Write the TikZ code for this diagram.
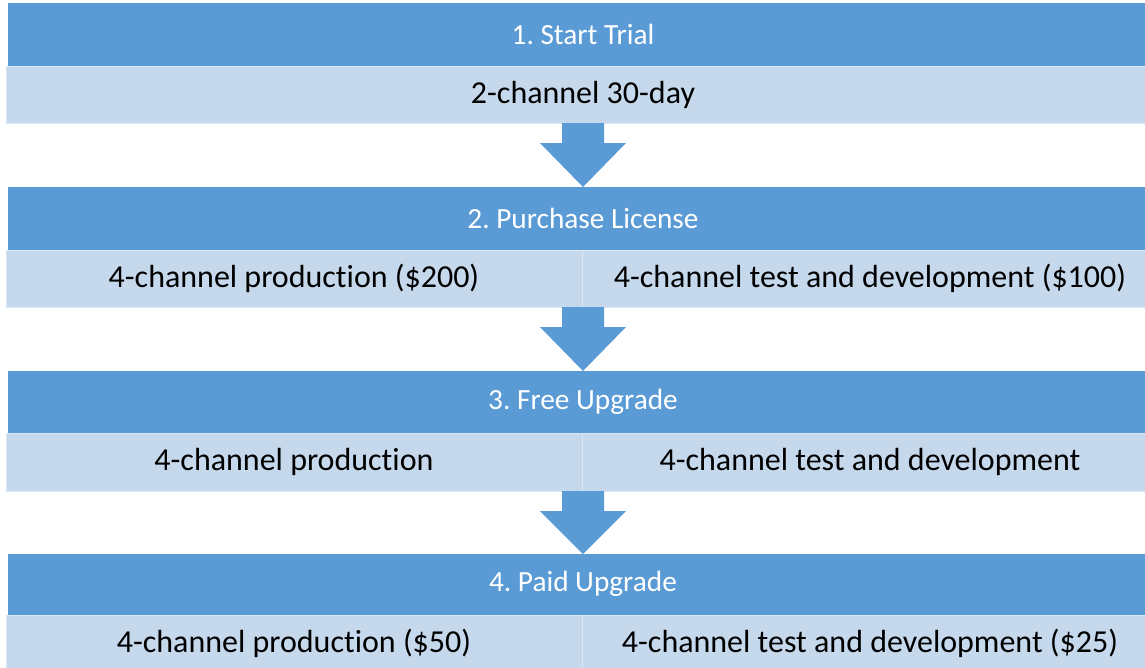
\documentclass[tikz,border=0pt]{standalone}
\usepackage{fontspec}
\setmainfont{Carlito}[Ligatures=NoCommon]
\definecolor{hdr}{HTML}{5B9BD5}
\definecolor{lite}{HTML}{C5D8EC}
\definecolor{liteedge}{HTML}{DCE7F4}
\tikzset{
  hdrbox/.style={fill=hdr, draw=none},
  litebox/.style={fill=lite, draw=liteedge, line width=1pt},
  hdrtext/.style={text=white, font=\fontsize{29.3}{35}\selectfont\frenchspacing, inner sep=0pt},
  litetext/.style={text=black, font=\fontsize{32}{38}\selectfont\frenchspacing, inner sep=0pt},
  flowarrow/.style={fill=hdr, draw=none}
}
\begin{document}
\begin{tikzpicture}[x=1pt,y=-1pt]
\useasboundingbox (0,0) rectangle (1145,667);
\clip (0,0) rectangle (1145,667);
\fill[white] (0,0) rectangle (1145,667);
% stage 1
\path[hdrbox] (8,3) rectangle (1160,66);
\path[litebox] (6,66) rectangle (1160,123);
\node[hdrtext] (h1) at (583,34) {1. Start Trial};
\node[litetext] (l1) at (583,95) {2-channel 30-day};
% arrow 1
\path[flowarrow] (562,123) -- (604,123) -- (604,143) -- (626,143) -- (583,187) -- (540,143) -- (562,143) -- cycle;
% stage 2
\path[hdrbox] (8,187) rectangle (1160,250);
\path[litebox] (6,250) rectangle (1160,307);
\draw[liteedge, line width=1pt] (582,250) -- (582,307);
\node[hdrtext] (h2) at (583,218) {2. Purchase License};
\node[litetext] (l2a) at (294,278.5) {4-channel production (\$200)};
\node[litetext] (l2b) at (870,278.5) {4-channel test and development (\$100)};
% arrow 2
\path[flowarrow] (562,307) -- (604,307) -- (604,327) -- (626,327) -- (583,371) -- (540,327) -- (562,327) -- cycle;
% stage 3
\path[hdrbox] (8,371) rectangle (1160,433);
\path[litebox] (6,433) rectangle (1160,491);
\draw[liteedge, line width=1pt] (582,433) -- (582,491);
\node[hdrtext] (h3) at (583,402) {3. Free Upgrade};
\node[litetext] (l3a) at (294,462) {4-channel production};
\node[litetext] (l3b) at (870,462) {4-channel test and development};
% arrow 3
\path[flowarrow] (562,491) -- (604,491) -- (604,511) -- (626,511) -- (583,554) -- (540,511) -- (562,511) -- cycle;
% stage 4
\path[hdrbox] (8,554) rectangle (1160,615);
\path[litebox] (6,615) rectangle (1160,672);
\draw[liteedge, line width=1pt] (582,615) -- (582,672);
\node[hdrtext] (h4) at (583,584) {4. Paid Upgrade};
\node[litetext] (l4a) at (294,643) {4-channel production (\$50)};
\node[litetext] (l4b) at (870,643) {4-channel test and development (\$25)};
\end{tikzpicture}
\end{document}
